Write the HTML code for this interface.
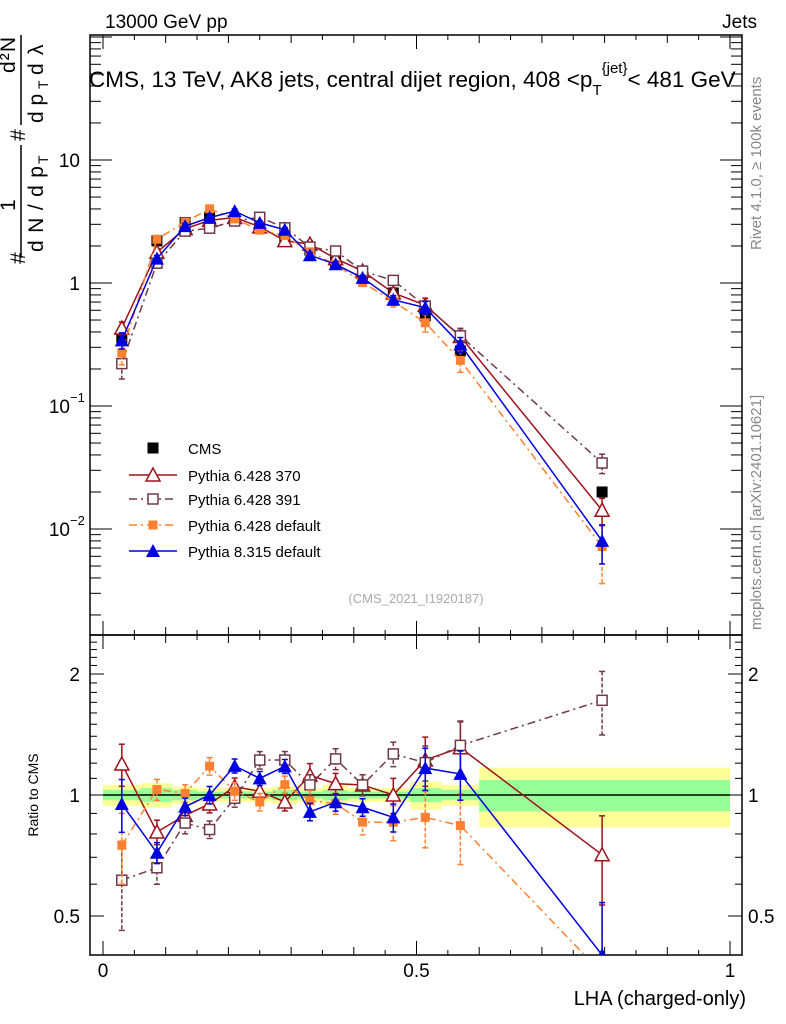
<!DOCTYPE html>
<html><head><meta charset="utf-8"><style>
html,body{margin:0;background:#fff;overflow:hidden;width:786px;height:1024px;}
svg{display:block;font-family:"Liberation Sans",sans-serif;}
</style></head><body>
<svg id="c" width="786" height="1024">
<defs>
<clipPath id="cm"><rect x="90" y="35" width="652" height="600"/></clipPath>
<clipPath id="cr"><rect x="90" y="635" width="652" height="320"/></clipPath>
</defs>
<text x="105" y="28" font-size="19">13000 GeV pp</text>
<text x="757" y="28" font-size="19" text-anchor="end">Jets</text>
<text x="89" y="87" font-size="22.5">CMS, 13 TeV, AK8 jets, central dijet region, 408 &lt;p<tspan font-size="15" dy="8">T</tspan><tspan font-size="15" dy="-22">{jet}</tspan><tspan dy="14">&lt; 481 GeV</tspan></text>
<text transform="translate(761,250) rotate(-90)" font-size="15" fill="#888">Rivet 4.1.0, ≥ 100k events</text>
<text transform="translate(761,630) rotate(-90)" font-size="15" fill="#888">mcplots.cern.ch [arXiv:2401.10621]</text>
<g transform="rotate(-90)" font-size="21">
<text x="-264" y="25">#</text>
<text x="-211" y="15">1</text>
<line x1="-258" x2="-145" y1="21" y2="21" stroke="#000" stroke-width="1.5"/>
<text x="-252" y="43" textLength="86">d N / d p</text><text x="-164" y="48" font-size="14">T</text>
<text x="-141" y="25">#</text>
<line x1="-125" x2="-35" y1="21" y2="21" stroke="#000" stroke-width="1.5"/>
<text x="-73" y="15" textLength="36">d²N</text>
<text x="-123" y="43">d p</text><text x="-89" y="48" font-size="14">T</text><text x="-75" y="43">d</text><text x="-55" y="43">λ</text>
</g>
<text x="416" y="603" font-size="13" fill="#aaa" text-anchor="middle">(CMS_2021_I1920187)</text>
<text transform="translate(38,795) rotate(-90)" font-size="14" text-anchor="middle">Ratio to CMS</text>
<text x="746" y="1005" font-size="20" text-anchor="end">LHA (charged-only)</text>
<g id="bands" clip-path="url(#cr)"></g>
<g id="axes"></g>
<g id="mainp" clip-path="url(#cm)"></g>
<g id="ratiop" clip-path="url(#cr)"></g>
<g id="legend"></g>
</svg>
<script>
const centers=[0.03,0.086,0.131,0.170,0.210,0.250,0.290,0.330,0.371,0.414,0.463,0.514,0.570,0.796];
const edges=[0,0.06,0.11,0.15,0.19,0.23,0.27,0.31,0.35,0.39,0.43,0.49,0.54,0.60,1.0];
const cms=[0.36,2.2,3.1,3.4,3.25,2.8,2.3,1.85,1.48,1.18,0.83,0.54,0.28,0.020];
const bandTot=[0.06,0.07,0.05,0.04,0.04,0.04,0.05,0.04,0.06,0.04,0.04,0.08,0.06,0.17];
const bandStat=[0.03,0.04,0.03,0.02,0.02,0.02,0.03,0.02,0.03,0.02,0.02,0.04,0.03,0.09];
const red=[0.43,1.78,2.76,3.23,3.41,2.86,2.21,2.07,1.58,1.25,0.83,0.66,0.367,0.0142];
const redErr=[0.12,0.07,0.05,0.05,0.05,0.05,0.05,0.07,0.06,0.06,0.10,0.14,0.16,0.25];
const purple=[0.221,1.45,2.64,2.79,3.19,3.42,2.81,1.96,1.82,1.25,1.05,0.65,0.372,0.0344];
const purpleErr=[0.25,0.09,0.06,0.05,0.05,0.05,0.05,0.06,0.06,0.06,0.07,0.10,0.15,0.18];
const orange=[0.27,2.27,3.13,4.01,3.32,2.69,2.44,1.79,1.41,1.01,0.71,0.475,0.235,0.0072];
const orangeErr=[0.2,0.06,0.05,0.05,0.05,0.05,0.05,0.06,0.06,0.07,0.1,0.16,0.2,0.5];
const blue=[0.342,1.58,2.90,3.4,3.84,3.08,2.71,1.68,1.42,1.10,0.73,0.63,0.316,0.008];
const blueErr=[0.15,0.06,0.05,0.05,0.04,0.04,0.04,0.05,0.05,0.05,0.08,0.12,0.14,0.35];
const seriesNames=["Pythia 6.428 370","Pythia 6.428 391","Pythia 6.428 default","Pythia 8.315 default"];
const NS="http://www.w3.org/2000/svg";
const X=v=>103+627*v;
const YM=v=>283-123*Math.log10(v);
const YR=v=>795-402*Math.log10(v);
const L0=90,R0=742;
function mk(t,a,p){const e=document.createElementNS(NS,t);for(const k in a)e.setAttribute(k,a[k]);p.appendChild(e);return e;}
const axes=document.getElementById('axes');
mk('rect',{x:L0,y:35,width:R0-L0,height:600,fill:'none',stroke:'#000','stroke-width':1.5},axes);
mk('rect',{x:L0,y:635,width:R0-L0,height:320,fill:'none',stroke:'#000','stroke-width':1.5},axes);
for(let i=0;i<=20;i++){const v=i/20,x=X(v);const L=i%10==0?14:(i%2==0?8:5);
 for(const [y0,d] of [[635,-1],[35,1],[955,-1],[635,1]]) mk('line',{x1:x,x2:x,y1:y0,y2:y0+d*L,stroke:'#000'},axes);}
[[0,'0'],[0.5,'0.5'],[1,'1']].forEach(([v,t])=>{const e=mk('text',{x:X(v),y:977,'font-size':19,'text-anchor':'middle'},axes);e.textContent=t;

});
for(let d=-3;d<=2;d++)for(let m=1;m<10;m++){const v=m*Math.pow(10,d),y=YM(v);if(y<35||y>635)continue;const L=m==1?22:11;
 mk('line',{x1:L0,x2:L0+L,y1:y,y2:y,stroke:'#000'},axes);mk('line',{x1:R0,x2:R0-L,y1:y,y2:y,stroke:'#000'},axes);}
[[10,'10'],[1,'1']].forEach(([v,t])=>{const e=mk('text',{x:80,y:YM(v)+7,'font-size':19,'text-anchor':'end'},axes);e.textContent=t;

});
[[0.1,'−1'],[0.01,'−2']].forEach(([v,t])=>{const e=mk('text',{x:70,y:YM(v)+7,'font-size':19,'text-anchor':'end'},axes);e.textContent='10';
const s=mk('text',{x:70,y:YM(v)-4,'font-size':13},axes);s.textContent=t;

});
for(let v=0.4;v<=2.51;v+=0.1){const y=YR(v);if(y<635||y>955)continue;const r=Math.round(v*10);const L=(r==5||r==10||r==20)?14:7;
 mk('line',{x1:L0,x2:L0+L,y1:y,y2:y,stroke:'#000'},axes);mk('line',{x1:R0,x2:R0-L,y1:y,y2:y,stroke:'#000'},axes);}
[[2,'2'],[1,'1'],[0.5,'0.5']].forEach(([v,t])=>{for(const [x,a] of [[80,'end'],[748,'start']]){const e=mk('text',{x:x,y:YR(v)+7,'font-size':19,'text-anchor':a},axes);e.textContent=t;

}});
const bands=document.getElementById('bands');
for(let i=0;i<cms.length;i++){const x0=X(edges[i]),x1=X(edges[i+1]);
 const b1=mk('rect',{x:x0,y:YR(1+bandTot[i]),width:x1-x0,height:YR(1-bandTot[i])-YR(1+bandTot[i]),fill:'#ffff99'},bands);
 
 const b2=mk('rect',{x:x0,y:YR(1+bandStat[i]),width:x1-x0,height:YR(1-bandStat[i])-YR(1+bandStat[i]),fill:'#99ff99'},bands);
 }
mk('line',{x1:X(0),x2:X(1),y1:YR(1),y2:YR(1),stroke:'#000','stroke-width':1.5},bands);
const mainp=document.getElementById('mainp'),ratiop=document.getElementById('ratiop');
function marker(type,x,y,col,p){
 if(type=='sqf')return mk('rect',{x:x-5.5,y:y-5.5,width:11,height:11,fill:col},p);
 if(type=='sqo')return mk('rect',{x:x-5,y:y-5,width:10,height:10,fill:'#fff',stroke:col,'stroke-width':1.5},p);
 if(type=='sqs')return mk('rect',{x:x-4.5,y:y-4.5,width:9,height:9,fill:col},p);
 if(type=='tro')return mk('polygon',{points:`${x},${y-7} ${x-7},${y+6} ${x+7},${y+6}`,fill:'#fff',stroke:col,'stroke-width':1.5},p);
 return mk('polygon',{points:`${x},${y-7} ${x-7},${y+6} ${x+7},${y+6}`,fill:col},p);
}
const series=[
 {name:'pythia6-370',vals:red,err:redErr,col:'#a0101a',dash:'',m:'tro'},
 {name:'pythia6-391',vals:purple,err:purpleErr,col:'#703848',dash:'8,4,2,4',m:'sqo'},
 {name:'pythia6-default',vals:orange,err:orangeErr,col:'#ff8030',dash:'8,4,2,4',m:'sqs'},
 {name:'pythia8-default',vals:blue,err:blueErr,col:'#0000e0',dash:'',m:'trf'}];
function drawSeries(s,Y,getv,p,suffix){
 const pts=centers.map((c,i)=>X(c)+','+Y(getv(i))).join(' ');
 const pl=mk('polyline',{points:pts,fill:'none',stroke:s.col,'stroke-width':1.5,'stroke-dasharray':s.dash},p);
 
 
 centers.forEach((c,i)=>{const v=getv(i),x=X(c);const y1=Y(v*(1+s.err[i])),y2=Y(Math.max(v*(1-s.err[i]),1e-4));
  mk('line',{x1:x,x2:x,y1:y1,y2:y2,stroke:s.col,'stroke-width':1.5,'stroke-dasharray':s.dash?'4,2':''},p);
  mk('line',{x1:x-3,x2:x+3,y1:y1,y2:y1,stroke:s.col,'stroke-width':1.5},p);
  mk('line',{x1:x-3,x2:x+3,y1:y2,y2:y2,stroke:s.col,'stroke-width':1.5},p);
  const m=marker(s.m,x,Y(v),s.col,p);
  
  });
}
centers.forEach((c,i)=>{const m=marker('sqf',X(c),YM(cms[i]),'#000',mainp);
 
 });
series.forEach(s=>{drawSeries(s,YM,i=>s.vals[i],mainp,'main');drawSeries(s,YR,i=>s.vals[i]/cms[i],ratiop,'ratio');});
const lg=document.getElementById('legend');
const lx=153,ly=[448,475,499,525,551];
const cm=marker('sqf',lx,ly[0],'#000',lg);

let t=mk('text',{x:188,y:ly[0]+6,'font-size':15},lg);t.textContent='CMS';


series.forEach((s,k)=>{const y=ly[k+1];
 mk('line',{x1:lx-24,x2:lx+24,y1:y,y2:y,stroke:s.col,'stroke-width':1.5,'stroke-dasharray':s.dash},lg);
 marker(s.m,lx,y,s.col,lg);
 const e=mk('text',{x:188,y:y+6,'font-size':15},lg);e.textContent=seriesNames[k];
 
 });
</script>
</body></html>
